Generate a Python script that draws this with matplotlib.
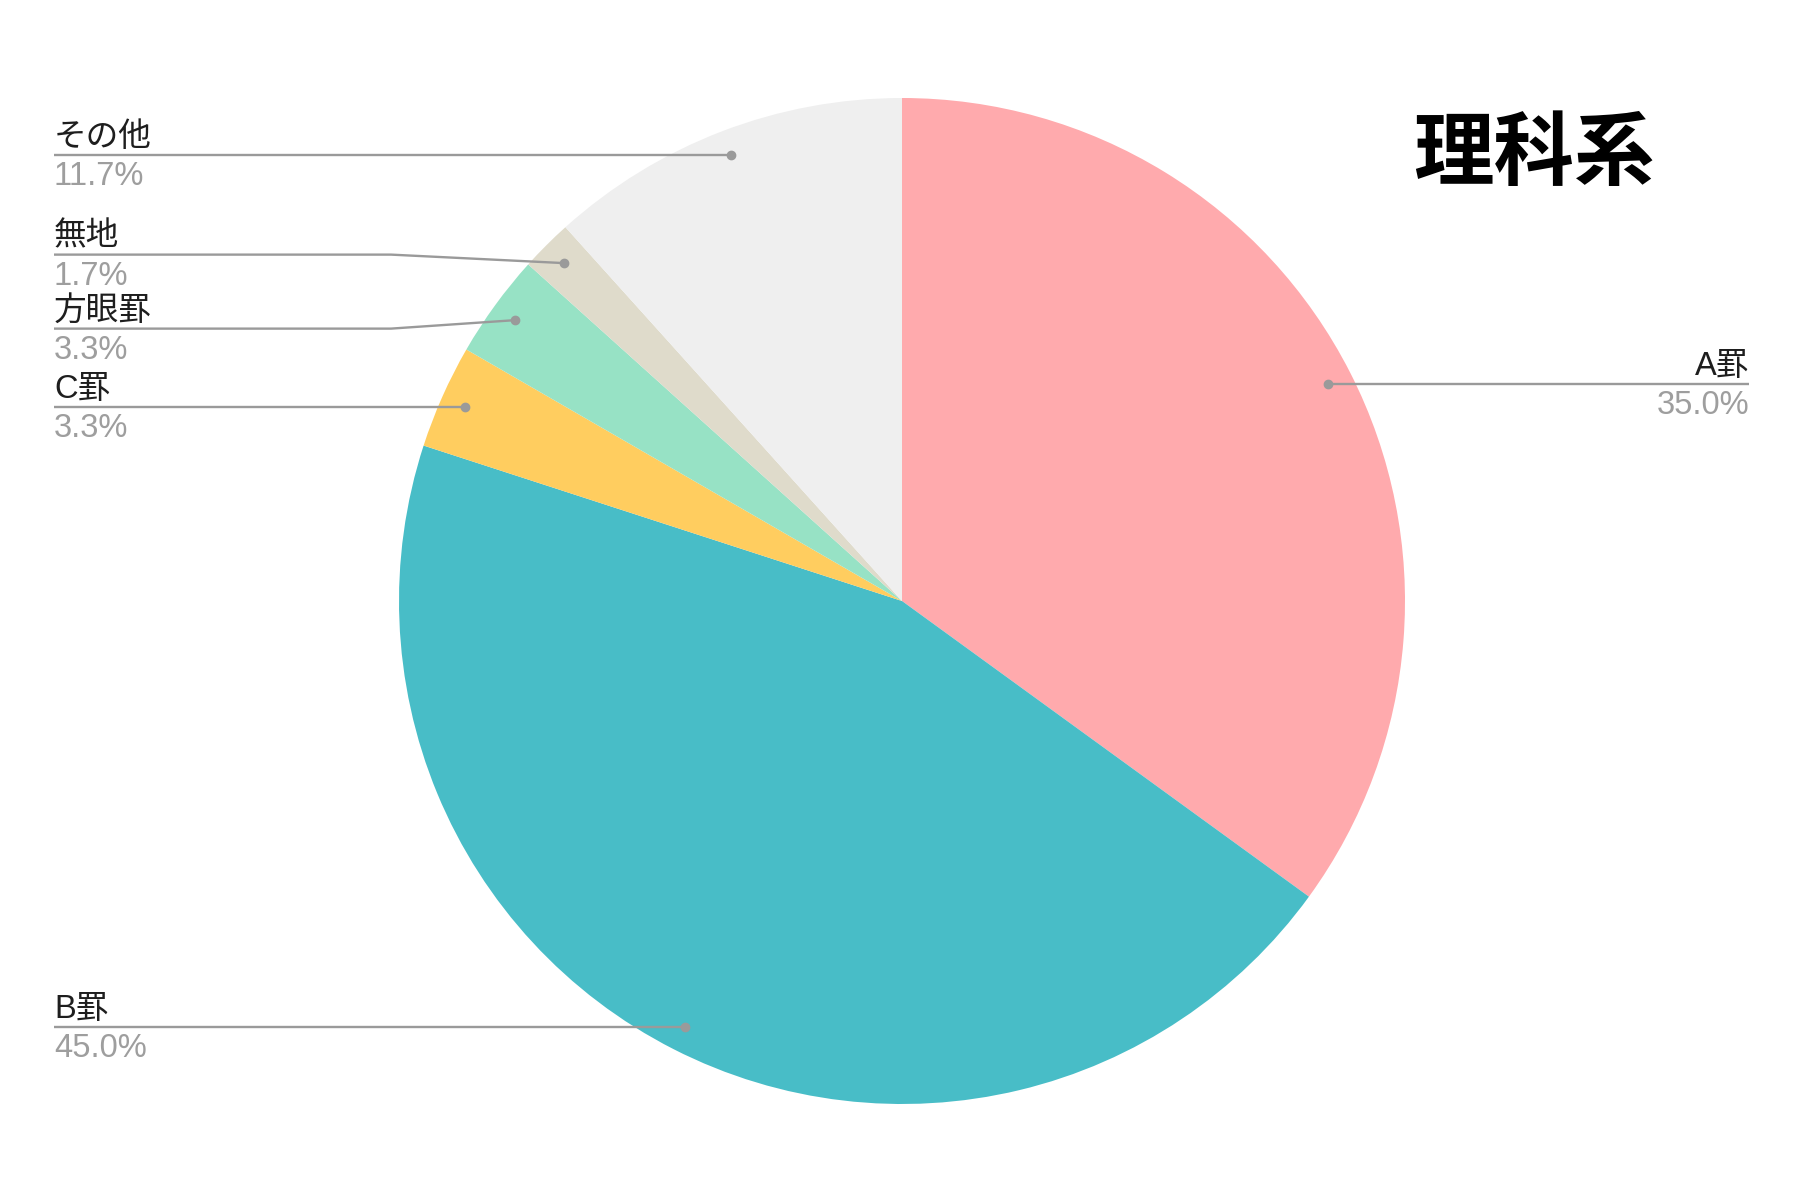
import numpy as np
import matplotlib.pyplot as plt

plt.rcParams['font.family'] = ['Liberation Sans', 'Noto Sans CJK JP', 'DejaVu Sans']

# data (counts out of 60 answers)
labels = ['A罫', 'B罫', 'C罫', '方眼罫', '無地', 'その他']
counts = [21, 27, 2, 2, 1, 7]
colors = ['#FFAAAD', '#48BDC7', '#FFCD5F', '#97E2C5', '#DFDBCB', '#EFEFEF']
title = '理科系'

W, H = 1800, 1200
cx, cy, R = 902, 599, 503
x_left, x_right, x_elbow = 54, 1749, 391
gap = 74
line_col = '#9A9A9A'


def spread(ys, gap):
    # ys sorted from top to bottom; push overlapping labels apart around their mean
    groups = [[y] for y in ys]
    merged = True
    while merged:
        merged = False
        tops = [np.mean(g) + gap * (len(g) - 1) / 2 for g in groups]
        for i in range(len(groups) - 1):
            bottom = tops[i] - gap * (len(groups[i]) - 1)
            if bottom - tops[i + 1] < gap:
                groups[i] = groups[i] + groups[i + 1]
                del groups[i + 1]
                merged = True
                break
    out = []
    for g in groups:
        top = np.mean(g) + gap * (len(g) - 1) / 2
        out += [top - k * gap for k in range(len(g))]
    return out


fig = plt.figure(figsize=(18, 12), dpi=100)
ax = fig.add_axes([0, 0, 1, 1])
wedges, _ = ax.pie(counts, colors=colors, startangle=90, counterclock=False,
                   center=(cx, cy), radius=R, wedgeprops=dict(linewidth=0))
ax.set_xlim(0, W)
ax.set_ylim(0, H)
ax.set_aspect('equal')
ax.axis('off')

total = sum(counts)
items = []
for w, lab, c in zip(wedges, labels, counts):
    mid = np.deg2rad((w.theta1 + w.theta2) / 2)
    px = cx + 0.95 * R * np.cos(mid)
    py = cy + 0.95 * R * np.sin(mid)
    side = 'right' if np.cos(mid) > 0 else 'left'
    items.append(dict(label=lab, pct=100 * c / total, px=px, py=py, side=side))

for side in ['left', 'right']:
    its = sorted([it for it in items if it['side'] == side], key=lambda d: -d['py'])
    ys = spread([it['py'] for it in its], gap)
    for it, y in zip(its, ys):
        if side == 'left':
            ax.plot([x_left, x_elbow, it['px']], [y, y, it['py']], color=line_col, lw=1.7,
                    solid_capstyle='butt', zorder=3)
            tx, ha = x_left, 'left'
        else:
            ax.plot([it['px'], x_right], [it['py'], y], color=line_col, lw=1.7,
                    solid_capstyle='butt', zorder=3)
            tx, ha = x_right, 'right'
        ax.plot(it['px'], it['py'], 'o', color=line_col, markersize=6, zorder=4)
        ax.text(tx, y + 2, it['label'], ha=ha, va='bottom', fontsize=23.5, color='#1E1E1E')
        ax.text(tx, y - 6, '{:.1f}%'.format(it['pct']), ha=ha, va='top', fontsize=23.5,
                color='#9E9E9E')

ax.text(1534, 1045, title, ha='center', va='center', fontsize=58, fontweight='bold',
        family=['Noto Sans CJK JP', 'DejaVu Sans'], color='black')

fig.savefig('out.png', dpi=100, facecolor='white')
